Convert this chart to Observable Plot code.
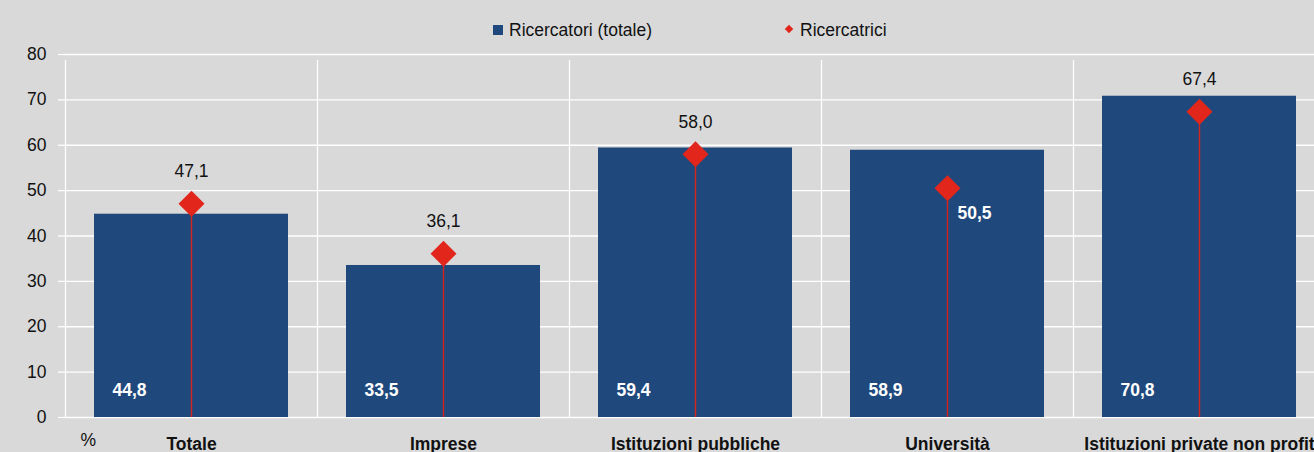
<!DOCTYPE html>
<html>
<head>
<meta charset="utf-8">
<script src="https://cdn.jsdelivr.net/npm/d3@7"></script>
<script src="https://cdn.jsdelivr.net/npm/@observablehq/plot@0.6"></script>
<style>
  html, body { margin: 0; padding: 0; background: #d9d9d9; }
  body { width: 1314px; height: 452px; overflow: hidden; font-family: 'Liberation Sans', Arial, sans-serif; }
  #legend { position: relative; height: 45px; font-size: 17.5px; color: #111; }
  #legend span { position: absolute; line-height: 20px; top: 20px; white-space: nowrap; }
  #legend .sq { position: absolute; left: 493px; top: 25px; width: 10px; height: 10px; background: #1f497d; }
  #legend .dm { position: absolute; left: 786px; top: 26px; width: 6px; height: 6px; background: #e2261b; transform: rotate(45deg); }
  #chart svg { display: block; }
</style>
</head>
<body>
<div id="legend">
  <div class="sq"></div><span style="left:509px">Ricercatori (totale)</span>
  <div class="dm"></div><span style="left:800px">Ricercatrici</span>
</div>
<div id="chart"></div>
<script>
const categories = ["Totale", "Imprese", "Istituzioni pubbliche", "Università", "Istituzioni private non profit"];
const totale = [44.8, 33.5, 59.4, 58.9, 70.8];
const ricercatrici = [47.1, 36.1, 58.0, 50.5, 67.4];
const yTicks = [0, 10, 20, 30, 40, 50, 60, 70, 80];

const data = categories.map((c, i) => ({cat: c, tot: totale[i], women: ricercatrici[i]}));
const fmt = d => d.toFixed(1).replace(".", ",");

const xRange = [65, 1325];
const half = (xRange[1] - xRange[0]) / categories.length / 2;

const chart = Plot.plot({
  width: 1314,
  height: 407,
  marginTop: 9,
  marginBottom: 35,
  marginLeft: 65,
  marginRight: 0,
  style: {background: "#d9d9d9", fontFamily: "'Liberation Sans', Arial, sans-serif", fontSize: "17px", color: "#111"},
  x: {type: "band", domain: categories, range: xRange, paddingInner: 0.23, paddingOuter: 0.115, round: true},
  y: {domain: [0, 80]},
  marks: [
    Plot.gridY(yTicks, {stroke: "white", strokeOpacity: 1, strokeWidth: 1.3}),
    Plot.ruleX(categories, {x: d => d, dx: half, y1: 0, y2: 80, insetBottom: -6, stroke: "white", strokeWidth: 1.3}),
    Plot.ruleX([categories[0]], {x: d => d, dx: -half, y1: 0, y2: 80, insetBottom: -6, stroke: "white", strokeWidth: 1.3}),
    Plot.axisY(yTicks, {tickSize: 7, tickPadding: 12, stroke: "white", strokeWidth: 1.3, fill: "#111", fontSize: 17.5, label: null}),
    Plot.barY(data, {x: "cat", y: "tot", fill: "#1f497d"}),
    Plot.ruleX(data, {x: "cat", y1: 0, y2: "women", stroke: "#d8231c", strokeWidth: 1.4}),
    Plot.dot(data, {x: "cat", y: "women", symbol: "diamond2", r: 11.7, fill: "#e2261b", stroke: "none"}),
    Plot.text(data, {x: "cat", y: 0, text: d => fmt(d.tot), dx: -62, dy: -27, fill: "white", fontWeight: "bold", fontSize: 17.5}),
    Plot.text(data.filter(d => d.cat !== "Università"), {x: "cat", y: "women", text: d => fmt(d.women), dy: -32, fill: "#111", fontSize: 17.5}),
    Plot.text(data.filter(d => d.cat === "Università"), {x: "cat", y: "women", text: d => fmt(d.women), dx: 27, dy: 25, fill: "white", fontWeight: "bold", fontSize: 17.5}),
    Plot.axisX({tickSize: 0, tickPadding: 20, fontWeight: "bold", fontSize: 17.5, fill: "#111", label: null}),
    Plot.text(["%"], {frameAnchor: "bottom-left", text: d => d, dx: 15, dy: 28, fill: "#111", fontSize: 17.5})
  ]
});
document.getElementById("chart").appendChild(chart);
</script>
</body>
</html>
